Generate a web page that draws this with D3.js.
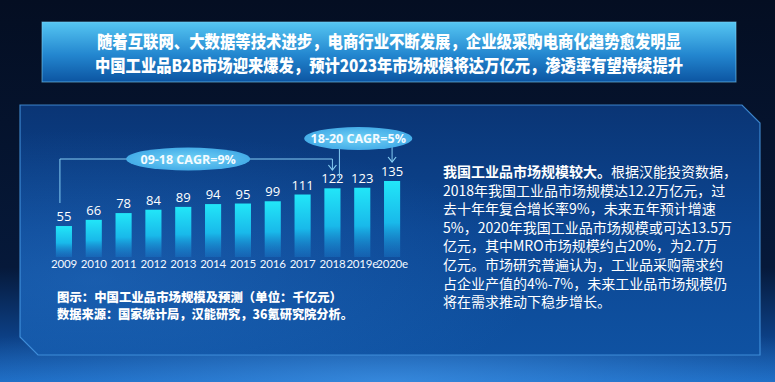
<!DOCTYPE html>
<html>
<head>
<meta charset="utf-8">
<script src="https://cdn.jsdelivr.net/npm/d3@7"></script>
<style>
  html, body { margin: 0; padding: 0; background: #051229; }
  svg { display: block; }
  text { font-family: "Noto Sans CJK SC", "Noto Sans", sans-serif; }
</style>
</head>
<body>
<div class="root"></div>
<script>
// data
const years = ["2009", "2010", "2011", "2012", "2013", "2014", "2015", "2016", "2017", "2018", "2019e", "2020e"];
const values = [55, 66, 78, 84, 89, 94, 95, 99, 111, 122, 123, 135];
const titleLines = [
  "随着互联网、大数据等技术进步，电商行业不断发展，企业级采购电商化趋势愈发明显",
  "中国工业品B2B市场迎来爆发，预计2023年市场规模将达万亿元，渗透率有望持续提升"
];
const cagrLabels = ["09-18 CAGR=9%", "18-20 CAGR=5%"];
const noteLines = [
  "图示：中国工业品市场规模及预测（单位：千亿元）",
  "数据来源：国家统计局，汉能研究，36氪研究院分析。"
];
const paraBold = "我国工业品市场规模较大。";
const paraLines = [
  "根据汉能投资数据，",
  "2018年我国工业品市场规模达12.2万亿元，过",
  "去十年年复合增长率9%，未来五年预计增速",
  "5%，2020年我国工业品市场规模或可达13.5万",
  "亿元，其中MRO市场规模约占20%，为2.7万",
  "亿元。市场研究普遍认为，工业品采购需求约",
  "占企业产值的4%-7%，未来工业品市场规模仍",
  "将在需求推动下稳步增长。"
];

const w = 775;
const h = 382;
const dataset = years.map((y, i) => ({ year: y, value: values[i] }));

const svg = d3.select(".root")
              .append("svg")
              .attr("width", w)
              .attr("height", h);

const defs = svg.append("defs");

// background gradients
const bg = defs.append("linearGradient").attr("id", "bg").attr("x1", 0).attr("y1", 0).attr("x2", 0).attr("y2", 1);
bg.append("stop").attr("offset", "0%").attr("stop-color", "#040e22");
bg.append("stop").attr("offset", "70%").attr("stop-color", "#06193a");
bg.append("stop").attr("offset", "88%").attr("stop-color", "#0c3f84");
bg.append("stop").attr("offset", "100%").attr("stop-color", "#1d6cc4");

const glow = defs.append("radialGradient").attr("id", "glow").attr("cx", "0.5").attr("cy", "1").attr("r", "0.6");
glow.append("stop").attr("offset", "0%").attr("stop-color", "#4a9ff0").attr("stop-opacity", 0.55);
glow.append("stop").attr("offset", "100%").attr("stop-color", "#3a8fe6").attr("stop-opacity", 0);

const panel = defs.append("linearGradient").attr("id", "panel").attr("x1", 0).attr("y1", 0).attr("x2", 0).attr("y2", 1);
panel.append("stop").attr("offset", "0%").attr("stop-color", "#0a3575");
panel.append("stop").attr("offset", "50%").attr("stop-color", "#0c4692");
panel.append("stop").attr("offset", "100%").attr("stop-color", "#0f52a2");

const panelSide = defs.append("radialGradient").attr("id", "panelSide").attr("cx", "0.1").attr("cy", "0.7").attr("r", "0.6");
panelSide.append("stop").attr("offset", "0%").attr("stop-color", "#2f7fd6").attr("stop-opacity", 0.35);
panelSide.append("stop").attr("offset", "100%").attr("stop-color", "#2f7fd6").attr("stop-opacity", 0);

const banner = defs.append("linearGradient").attr("id", "banner").attr("x1", 0).attr("y1", 0).attr("x2", 0).attr("y2", 1);
banner.append("stop").attr("offset", "0%").attr("stop-color", "#55c6f2");
banner.append("stop").attr("offset", "55%").attr("stop-color", "#2386cf");
banner.append("stop").attr("offset", "100%").attr("stop-color", "#0c55a2");

const barGrad = defs.append("linearGradient").attr("id", "barGrad").attr("x1", 0).attr("y1", 0).attr("x2", 0).attr("y2", 1);
barGrad.append("stop").attr("offset", "0%").attr("stop-color", "#22e6f8");
barGrad.append("stop").attr("offset", "55%").attr("stop-color", "#19b9ea");
barGrad.append("stop").attr("offset", "100%").attr("stop-color", "#1a7fd0").attr("stop-opacity", 0.35);

const ell = defs.append("radialGradient").attr("id", "ell");
ell.append("stop").attr("offset", "0%").attr("stop-color", "#72d3f6");
ell.append("stop").attr("offset", "100%").attr("stop-color", "#45ade8");

const arrow = defs.append("marker")
  .attr("id", "arrow")
  .attr("viewBox", "0 0 10 10")
  .attr("refX", 5).attr("refY", 9)
  .attr("markerWidth", 10).attr("markerHeight", 10)
  .attr("markerUnits", "userSpaceOnUse")
  .attr("orient", 0);
arrow.append("path").attr("d", "M1,4 L5,9 L9,4").attr("fill", "none").attr("stroke", "#86cdf3").attr("stroke-width", 1.2);

// background
svg.append("rect").attr("width", w).attr("height", h).attr("fill", "url(#bg)");
svg.append("rect").attr("x", 0).attr("y", 250).attr("width", w).attr("height", 132).attr("fill", "url(#glow)");

// title banner
svg.append("rect")
   .attr("x", 42).attr("y", 22).attr("width", 694).attr("height", 60)
   .attr("fill", "url(#banner)")
   .attr("stroke", "#7fd2f7").attr("stroke-opacity", 0.6);

const titleWidths = [584, 588];
svg.selectAll(".title")
   .data(titleLines)
   .enter()
   .append("text")
   .attr("class", "title")
   .attr("x", 389)
   .attr("y", (d, i) => 48 + i * 24)
   .attr("text-anchor", "middle")
   .attr("textLength", (d, i) => titleWidths[i])
   .attr("lengthAdjust", "spacingAndGlyphs")
   .style("font-size", "17.5px")
   .style("font-weight", "900")
   .style("fill", "#ffffff")
   .text((d) => d);

// main panel frame
const framePath = "M20,105 L742,105 L760,123 L760,355 L38,355 L20,337 Z";
svg.append("path").attr("d", framePath).attr("fill", "url(#panel)");
svg.append("path").attr("d", framePath).attr("fill", "url(#panelSide)")
   .attr("stroke", "#4a9be6").attr("stroke-width", 1.2).attr("stroke-opacity", 0.8);

// scales
const xScale = d3.scaleBand()
                 .domain(years)
                 .range([49, 407])
                 .paddingInner(0.46)
                 .paddingOuter(0.23);

const yScale = d3.scaleLinear()
                 .domain([0, 135])
                 .range([257, 181]);

const cx = (yr) => xScale(yr) + xScale.bandwidth() / 2;

// bars
svg.selectAll(".bar")
   .data(dataset)
   .enter()
   .append("rect")
   .attr("class", "bar")
   .attr("x", (d) => xScale(d.year))
   .attr("y", (d) => yScale(d.value))
   .attr("width", xScale.bandwidth())
   .attr("height", (d) => yScale(0) - yScale(d.value))
   .attr("fill", "url(#barGrad)");

// value labels
svg.selectAll(".val")
   .data(dataset)
   .enter()
   .append("text")
   .attr("class", "val")
   .attr("x", (d) => cx(d.year))
   .attr("y", (d) => yScale(d.value) - 5)
   .attr("text-anchor", "middle")
   .style("font-family", "\"Open Sans\", sans-serif")
   .style("font-size", "13px")
   .style("fill", "#ffffff")
   .text((d) => d.value);

// x axis
const xAxis = d3.axisBottom(xScale).tickSize(0).tickPadding(0);
const gx = svg.append("g")
   .attr("transform", "translate(0," + 256 + ")")
   .call(xAxis);
gx.select(".domain").remove();
gx.selectAll("text")
  .attr("font-family", "Lato, sans-serif")
  .attr("font-size", "11.5px")
  .style("font-family", "Lato, sans-serif")
  .style("font-size", "11.5px")
  .style("letter-spacing", "-0.2px")
  .style("fill", "#f2f8ff")
  .attr("dy", "1em");

// CAGR annotations
const lineColor = "#86cdf3";
const x09 = cx("2009") - 4;
const x18 = cx("2018");
const x20 = cx("2020e");
const e1x = (cx("2009") + cx("2018")) / 2 - 10;
const e2x = (cx("2018") + cx("2020e")) / 2 - 4;

svg.append("path")
   .attr("d", "M" + x09 + "," + 203 + " V159 H" + x18 + " V170")
   .attr("fill", "none")
   .attr("stroke", lineColor)
   .attr("stroke-width", 1)
   .attr("marker-end", "url(#arrow)");

svg.append("path")
   .attr("d", "M" + (x18 + 7) + ",139 V178")
   .attr("fill", "none")
   .attr("stroke", lineColor)
   .attr("stroke-width", 1);

svg.append("path")
   .attr("d", "M" + x20 + ",139 V162")
   .attr("fill", "none")
   .attr("stroke", lineColor)
   .attr("stroke-width", 1)
   .attr("marker-end", "url(#arrow)");

const ellipses = [
  { label: cagrLabels[0], x: e1x, y: 159, rx: 62, ry: 11.5 },
  { label: cagrLabels[1], x: e2x, y: 138.5, rx: 54, ry: 11.5 }
];

svg.selectAll(".ell")
   .data(ellipses)
   .enter()
   .append("ellipse")
   .attr("class", "ell")
   .attr("cx", (d) => d.x)
   .attr("cy", (d) => d.y)
   .attr("rx", (d) => d.rx)
   .attr("ry", (d) => d.ry)
   .attr("fill", "url(#ell)");

svg.selectAll(".ellText")
   .data(ellipses)
   .enter()
   .append("text")
   .attr("class", "ellText")
   .attr("x", (d) => d.x)
   .attr("y", (d) => d.y + 4.5)
   .attr("text-anchor", "middle")
   .style("font-family", "\"Open Sans\", sans-serif")
   .style("font-size", "12.5px")
   .style("font-weight", "bold")
   .style("fill", "#f4fbff")
   .text((d) => d.label);

// footnote
const noteWidths = [285, 296];
svg.selectAll(".note")
   .data(noteLines)
   .enter()
   .append("text")
   .attr("class", "note")
   .attr("x", 57)
   .attr("y", (d, i) => 302 + i * 17)
   .attr("textLength", (d, i) => noteWidths[i])
   .attr("lengthAdjust", "spacingAndGlyphs")
   .style("font-size", "12.5px")
   .style("font-weight", "900")
   .style("fill", "#ffffff")
   .text((d) => d);

// right paragraph
const para = svg.append("g").attr("class", "para");
paraLines.forEach((line, i) => {
  const t = para.append("text")
     .attr("x", 443)
     .attr("y", 177 + i * 18.6)
     .style("font-size", "14px")
     .style("fill", "#ffffff");
  if (i === 0) {
    t.append("tspan").style("font-weight", "bold").text(paraBold);
  }
  t.append("tspan").text(line);
});
</script>
</body>
</html>
